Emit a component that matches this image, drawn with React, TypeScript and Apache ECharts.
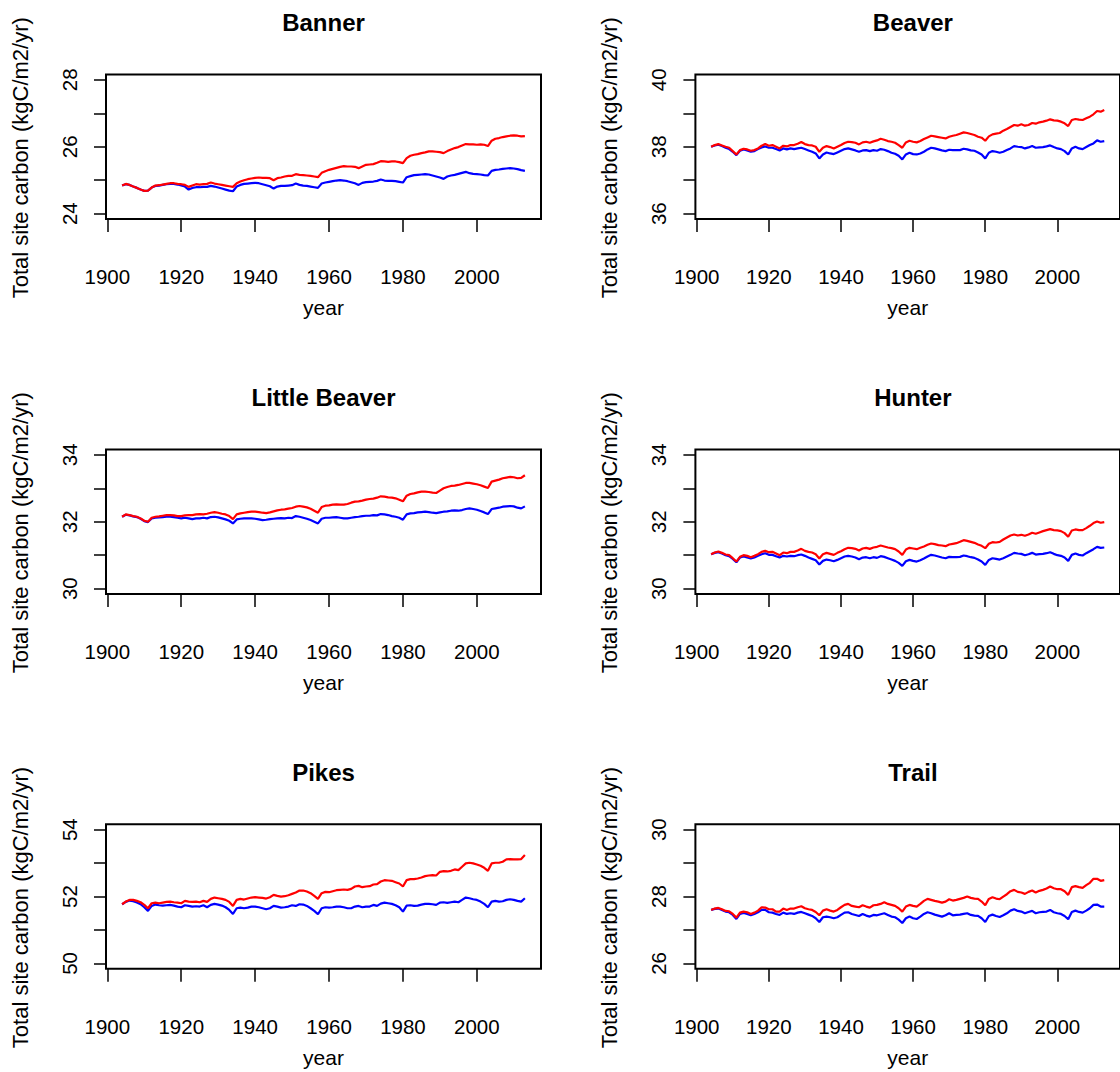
import React, { useEffect, useRef } from "react";
import * as echarts from "echarts";

// ---------------- DATA ----------------
const FIRST_YEAR = 1904;
const LAST_YEAR = 2013;
const years: number[] = [];
for (let y = FIRST_YEAR; y <= LAST_YEAR; y++) years.push(y);

const X_TICKS = [1900, 1920, 1940, 1960, 1980, 2000];
const Y_TITLE = "Total site carbon (kgC/m2/yr)";
const X_TITLE = "year";

const bannerRed = [
  24.84, 24.89, 24.86, 24.81, 24.77, 24.72,
  24.68, 24.69, 24.78, 24.84, 24.85, 24.87, 24.89, 24.91, 24.91, 24.89,
  24.88, 24.86, 24.80, 24.84, 24.88, 24.87, 24.88, 24.89, 24.93, 24.90,
  24.88, 24.86, 24.84, 24.82, 24.80, 24.91, 24.96, 25.00, 25.03, 25.05,
  25.07, 25.08, 25.07, 25.07, 25.06, 25.00, 25.06, 25.08, 25.11, 25.13,
  25.13, 25.18, 25.16, 25.15, 25.14, 25.13, 25.11, 25.09, 25.22, 25.27,
  25.31, 25.34, 25.37, 25.40, 25.42, 25.41, 25.41, 25.40, 25.36, 25.41,
  25.46, 25.47, 25.48, 25.52, 25.57, 25.56, 25.55, 25.56, 25.56, 25.54,
  25.51, 25.66, 25.73, 25.76, 25.78, 25.81, 25.83, 25.86, 25.86, 25.85,
  25.84, 25.81, 25.87, 25.92, 25.96, 25.99, 26.04, 26.08, 26.07, 26.07,
  26.06, 26.07, 26.06, 26.02, 26.18, 26.24, 26.26, 26.29, 26.31, 26.33,
  26.34, 26.33, 26.31, 26.32,
];
const bannerBlue = [
  24.84, 24.88, 24.86, 24.81, 24.77, 24.72,
  24.68, 24.69, 24.78, 24.83, 24.84, 24.86, 24.88, 24.89, 24.89, 24.87,
  24.84, 24.81, 24.72, 24.77, 24.79, 24.79, 24.80, 24.80, 24.83, 24.81,
  24.78, 24.75, 24.72, 24.69, 24.67, 24.81, 24.86, 24.89, 24.90, 24.91,
  24.92, 24.91, 24.88, 24.85, 24.82, 24.75, 24.81, 24.83, 24.83, 24.84,
  24.85, 24.90, 24.86, 24.84, 24.83, 24.81, 24.79, 24.77, 24.90, 24.93,
  24.95, 24.97, 24.99, 25.00, 24.99, 24.97, 24.94, 24.91, 24.86, 24.92,
  24.94, 24.95, 24.96, 24.98, 25.02, 24.99, 24.98, 24.98, 24.97, 24.95,
  24.93, 25.09, 25.12, 25.15, 25.16, 25.17, 25.18, 25.17, 25.14, 25.11,
  25.08, 25.04, 25.11, 25.14, 25.16, 25.19, 25.22, 25.25, 25.21, 25.19,
  25.18, 25.17, 25.15, 25.14, 25.28, 25.31, 25.32, 25.34, 25.35, 25.36,
  25.35, 25.33, 25.30, 25.28,
];

const beaverRed = [
  38.00, 38.05, 38.08, 38.04, 38.00, 37.97,
  37.87, 37.77, 37.90, 37.94, 37.92, 37.88, 37.90, 37.95, 38.03, 38.08,
  38.03, 38.05, 38.00, 37.95, 38.03, 38.01, 38.05, 38.05, 38.09, 38.14,
  38.08, 38.05, 38.04, 38.00, 37.85, 37.97, 38.02, 37.99, 37.95, 38.00,
  38.05, 38.11, 38.15, 38.14, 38.12, 38.07, 38.13, 38.15, 38.12, 38.16,
  38.19, 38.24, 38.21, 38.17, 38.15, 38.12, 38.05, 37.97, 38.13, 38.18,
  38.15, 38.13, 38.17, 38.23, 38.28, 38.33, 38.31, 38.29, 38.27, 38.25,
  38.30, 38.33, 38.35, 38.39, 38.43, 38.41, 38.38, 38.35, 38.30, 38.27,
  38.18, 38.31, 38.37, 38.39, 38.41, 38.48, 38.53, 38.59, 38.65, 38.63,
  38.67, 38.63, 38.65, 38.71, 38.69, 38.73, 38.75, 38.78, 38.82, 38.79,
  38.78, 38.75, 38.70, 38.62, 38.80, 38.83, 38.81, 38.80, 38.85, 38.90,
  38.97, 39.07, 39.05, 39.10,
];
const beaverBlue = [
  38.00, 38.04, 38.06, 38.02, 37.97, 37.93,
  37.85, 37.75, 37.88, 37.92, 37.89, 37.85, 37.87, 37.93, 37.98, 38.01,
  37.97, 37.97, 37.93, 37.89, 37.95, 37.92, 37.95, 37.93, 37.95, 37.97,
  37.93, 37.89, 37.85, 37.80, 37.65, 37.77, 37.83, 37.80, 37.78, 37.83,
  37.88, 37.93, 37.95, 37.92, 37.89, 37.85, 37.89, 37.90, 37.87, 37.90,
  37.88, 37.93, 37.91, 37.87, 37.82, 37.79, 37.73, 37.62, 37.77, 37.82,
  37.78, 37.77, 37.80, 37.85, 37.92, 37.97, 37.95, 37.92, 37.89, 37.87,
  37.91, 37.90, 37.90, 37.90, 37.94, 37.92, 37.89, 37.88, 37.83, 37.77,
  37.65, 37.82, 37.87, 37.85, 37.82, 37.85, 37.90, 37.95, 38.02, 38.00,
  37.99, 37.95, 37.98, 38.02, 37.97, 37.98, 37.99, 38.01, 38.04, 37.99,
  37.95, 37.93, 37.87, 37.77, 37.95, 38.00, 37.95, 37.93, 37.99, 38.05,
  38.10, 38.19, 38.15, 38.17,
];

const littleBeaverRed = [
  32.15, 32.22, 32.20, 32.17, 32.15, 32.10,
  32.03, 32.00, 32.12, 32.15, 32.16, 32.18, 32.20, 32.20, 32.19, 32.17,
  32.17, 32.19, 32.20, 32.20, 32.22, 32.23, 32.22, 32.24, 32.27, 32.29,
  32.27, 32.24, 32.22, 32.17, 32.08, 32.22, 32.25, 32.27, 32.29, 32.30,
  32.30, 32.29, 32.27, 32.26, 32.28, 32.31, 32.34, 32.36, 32.37, 32.39,
  32.41, 32.45, 32.47, 32.45, 32.43, 32.39, 32.33, 32.27, 32.44, 32.48,
  32.49, 32.51, 32.52, 32.51, 32.51, 32.53, 32.57, 32.60, 32.61, 32.63,
  32.66, 32.68, 32.69, 32.72, 32.76, 32.75, 32.73, 32.72, 32.70, 32.66,
  32.61, 32.78, 32.83, 32.85, 32.88, 32.90, 32.90, 32.89, 32.87, 32.86,
  32.93, 33.00, 33.04, 33.07, 33.08, 33.10, 33.13, 33.16, 33.16, 33.14,
  33.12, 33.09, 33.05, 33.01, 33.20, 33.23, 33.26, 33.30, 33.32, 33.34,
  33.33, 33.30, 33.31, 33.39,
];
const littleBeaverBlue = [
  32.15, 32.21, 32.19, 32.16, 32.14, 32.09,
  32.02, 31.99, 32.10, 32.12, 32.13, 32.14, 32.15, 32.15, 32.14, 32.12,
  32.10, 32.12, 32.10, 32.08, 32.10, 32.10, 32.12, 32.10, 32.14, 32.15,
  32.13, 32.10, 32.07, 32.03, 31.95, 32.07, 32.09, 32.10, 32.10, 32.10,
  32.09, 32.07, 32.05, 32.06, 32.08, 32.09, 32.10, 32.11, 32.10, 32.12,
  32.11, 32.17, 32.15, 32.12, 32.09, 32.05, 32.00, 31.95, 32.09, 32.12,
  32.12, 32.13, 32.14, 32.12, 32.10, 32.10, 32.12, 32.14, 32.15, 32.17,
  32.18, 32.18, 32.20, 32.19, 32.23, 32.22, 32.20, 32.17, 32.15, 32.12,
  32.06, 32.22, 32.25, 32.26, 32.28, 32.29, 32.30, 32.29, 32.27, 32.26,
  32.28, 32.30, 32.31, 32.33, 32.34, 32.33, 32.35, 32.38, 32.40, 32.38,
  32.36, 32.32, 32.28, 32.23, 32.38, 32.40, 32.42, 32.45, 32.46, 32.47,
  32.46, 32.42, 32.40, 32.46,
];

const hunterRed = [
  31.03, 31.08, 31.11, 31.07, 31.02, 31.00,
  30.91, 30.81, 30.95, 31.00, 30.98, 30.94, 30.98, 31.03, 31.10, 31.13,
  31.09, 31.10, 31.05, 31.00, 31.08, 31.06, 31.10, 31.10, 31.14, 31.19,
  31.13, 31.10, 31.08, 31.03, 30.90, 31.03, 31.07, 31.04, 31.01, 31.07,
  31.12, 31.18, 31.22, 31.21, 31.19, 31.14, 31.20, 31.22, 31.19, 31.23,
  31.25, 31.29, 31.26, 31.23, 31.21, 31.18, 31.11, 31.01, 31.17, 31.22,
  31.20, 31.18, 31.22, 31.26, 31.31, 31.35, 31.33, 31.30, 31.29, 31.27,
  31.32, 31.34, 31.36, 31.40, 31.45, 31.43, 31.40, 31.37, 31.32, 31.28,
  31.21, 31.34, 31.39, 31.38, 31.40, 31.47, 31.53, 31.59, 31.62, 31.59,
  31.61, 31.58, 31.62, 31.67, 31.64, 31.68, 31.72, 31.75, 31.78, 31.75,
  31.74, 31.72, 31.66, 31.55, 31.74, 31.77, 31.75, 31.75, 31.81, 31.88,
  31.96, 32.01, 31.97, 31.99,
];
const hunterBlue = [
  31.03, 31.07, 31.09, 31.05, 31.00, 30.97,
  30.89, 30.79, 30.93, 30.96, 30.93, 30.90, 30.93, 30.98, 31.03, 31.06,
  31.01, 31.01, 30.97, 30.93, 30.98, 30.96, 30.98, 30.97, 31.00, 31.02,
  30.98, 30.93, 30.89, 30.85, 30.72, 30.83, 30.87, 30.85, 30.82, 30.86,
  30.91, 30.96, 30.98, 30.96, 30.93, 30.88, 30.93, 30.94, 30.91, 30.94,
  30.92, 30.97, 30.95, 30.91, 30.87, 30.83, 30.77, 30.68, 30.82, 30.86,
  30.83, 30.81, 30.85, 30.90, 30.96, 31.01, 30.99, 30.96, 30.93, 30.91,
  30.95, 30.94, 30.94, 30.95, 30.99, 30.97, 30.94, 30.92, 30.87, 30.81,
  30.71, 30.86, 30.91, 30.89, 30.87, 30.91, 30.96, 31.01, 31.07, 31.05,
  31.04, 31.00, 31.03, 31.07, 31.02, 31.03, 31.04, 31.06, 31.09, 31.04,
  31.00, 30.98, 30.93, 30.83, 31.01, 31.05, 31.01, 30.99, 31.06, 31.12,
  31.18, 31.25, 31.22, 31.23,
];

const pikesRed = [
  51.77, 51.85, 51.90, 51.90, 51.87, 51.83,
  51.75, 51.65, 51.80, 51.82, 51.80, 51.82, 51.84, 51.85, 51.83, 51.82,
  51.80, 51.87, 51.85, 51.84, 51.85, 51.83, 51.87, 51.84, 51.93, 51.97,
  51.95, 51.93, 51.90, 51.84, 51.72, 51.90, 51.93, 51.91, 51.94, 51.97,
  51.98, 51.97, 51.96, 51.94, 51.98, 52.05, 52.02, 52.00, 52.01, 52.04,
  52.08, 52.12, 52.18, 52.18, 52.15, 52.10, 52.02, 51.93, 52.10, 52.14,
  52.13, 52.16, 52.19, 52.20, 52.21, 52.20, 52.23, 52.30, 52.32, 52.28,
  52.30, 52.31, 52.36, 52.37, 52.45, 52.49, 52.48, 52.47, 52.43, 52.39,
  52.30, 52.49, 52.52, 52.52, 52.54, 52.57, 52.61, 52.63, 52.64, 52.63,
  52.74, 52.76, 52.75, 52.77, 52.81, 52.79, 52.89, 52.99, 53.01, 52.99,
  52.96, 52.92, 52.86, 52.77, 52.99, 53.01, 53.01, 53.04, 53.11, 53.12,
  53.11, 53.11, 53.12, 53.24,
];
const pikesBlue = [
  51.77, 51.84, 51.88, 51.86, 51.82, 51.77,
  51.68, 51.57, 51.72, 51.76, 51.74, 51.73, 51.74, 51.75, 51.73, 51.70,
  51.68, 51.74, 51.72, 51.70, 51.71, 51.70, 51.74, 51.68, 51.75, 51.78,
  51.76, 51.73, 51.68, 51.60, 51.48, 51.65, 51.67, 51.65, 51.67, 51.70,
  51.70, 51.68, 51.65, 51.62, 51.65, 51.72, 51.70, 51.67, 51.68, 51.70,
  51.74, 51.72, 51.77, 51.76, 51.72, 51.65, 51.57, 51.47, 51.65, 51.68,
  51.67, 51.68, 51.70, 51.70, 51.68, 51.65, 51.65, 51.70, 51.72, 51.68,
  51.70, 51.70, 51.75, 51.72, 51.79, 51.82, 51.80, 51.78, 51.74, 51.68,
  51.55, 51.73, 51.74, 51.72, 51.73, 51.76, 51.78, 51.78, 51.77, 51.75,
  51.82, 51.83, 51.81, 51.83, 51.85, 51.83, 51.90, 51.97, 51.95, 51.92,
  51.90, 51.85, 51.78, 51.68, 51.85, 51.87, 51.85, 51.86, 51.90, 51.92,
  51.90, 51.87, 51.85, 51.95,
];

const trailRed = [
  27.60, 27.64, 27.66, 27.62, 27.57, 27.56,
  27.48, 27.37, 27.52, 27.55, 27.53, 27.48, 27.52, 27.58, 27.68, 27.67,
  27.62, 27.62, 27.55, 27.55, 27.64, 27.60, 27.64, 27.64, 27.68, 27.71,
  27.65, 27.62, 27.60, 27.54, 27.44, 27.58, 27.62, 27.58, 27.55, 27.60,
  27.68, 27.75, 27.78, 27.72, 27.70, 27.68, 27.74, 27.70, 27.67, 27.74,
  27.75, 27.78, 27.83, 27.78, 27.75, 27.72, 27.65, 27.55, 27.70, 27.75,
  27.72, 27.70, 27.78, 27.87, 27.93, 27.90, 27.87, 27.85, 27.82, 27.85,
  27.92, 27.88, 27.90, 27.93, 27.96, 28.00, 27.96, 27.94, 27.93, 27.85,
  27.74, 27.93, 27.98, 27.94, 27.92, 28.00, 28.07, 28.16, 28.20, 28.14,
  28.12, 28.08, 28.14, 28.18, 28.12, 28.17, 28.20, 28.24, 28.30, 28.25,
  28.22, 28.22, 28.16, 28.05, 28.28, 28.31, 28.28, 28.26, 28.34, 28.41,
  28.53, 28.53, 28.47, 28.49,
];
const trailBlue = [
  27.60, 27.63, 27.64, 27.60, 27.55, 27.53,
  27.45, 27.33, 27.48, 27.51, 27.48, 27.44, 27.48, 27.53, 27.60, 27.60,
  27.53, 27.52, 27.48, 27.45, 27.52, 27.48, 27.50, 27.48, 27.52, 27.54,
  27.50, 27.46, 27.42, 27.35, 27.24, 27.38, 27.40, 27.38, 27.35, 27.38,
  27.45, 27.52, 27.53, 27.48, 27.45, 27.42, 27.48, 27.43, 27.40, 27.45,
  27.44, 27.47, 27.50, 27.45, 27.40, 27.38, 27.31, 27.21, 27.35, 27.40,
  27.35, 27.33, 27.40, 27.48, 27.53, 27.50, 27.46, 27.43, 27.40, 27.44,
  27.50, 27.44, 27.45, 27.46, 27.48, 27.50, 27.45, 27.43, 27.42, 27.35,
  27.24, 27.42, 27.46, 27.42, 27.39, 27.44, 27.50, 27.58, 27.62, 27.57,
  27.55, 27.50, 27.54, 27.57, 27.50, 27.53, 27.54, 27.55, 27.60, 27.53,
  27.50, 27.48, 27.42, 27.32, 27.54, 27.58, 27.54, 27.52, 27.58, 27.65,
  27.75, 27.76, 27.70, 27.70,
];

const bannerTicks = [24, 25, 26, 27, 28];
const bannerLabels = [24, 26, 28];
const beaverTicks = [36, 37, 38, 39, 40];
const beaverLabels = [36, 38, 40];
const littleBeaverTicks = [30, 31, 32, 33, 34];
const littleBeaverLabels = [30, 32, 34];
const hunterTicks = [30, 31, 32, 33, 34];
const hunterLabels = [30, 32, 34];
const pikesTicks = [50, 51, 52, 53, 54];
const pikesLabels = [50, 52, 54];
const trailTicks = [26, 27, 28, 29, 30];
const trailLabels = [26, 28, 30];

const panels = [
  { name: "Banner", red: bannerRed, blue: bannerBlue, ticks: bannerTicks, labels: bannerLabels },
  { name: "Beaver", red: beaverRed, blue: beaverBlue, ticks: beaverTicks, labels: beaverLabels },
  { name: "Little Beaver", red: littleBeaverRed, blue: littleBeaverBlue, ticks: littleBeaverTicks, labels: littleBeaverLabels },
  { name: "Hunter", red: hunterRed, blue: hunterBlue, ticks: hunterTicks, labels: hunterLabels },
  { name: "Pikes", red: pikesRed, blue: pikesBlue, ticks: pikesTicks, labels: pikesLabels },
  { name: "Trail", red: trailRed, blue: trailBlue, ticks: trailTicks, labels: trailLabels },
];

// ---------------- LAYOUT ----------------
const FONT = "'Liberation Sans', Arial, Helvetica, sans-serif";
const COL_LEFT = [106, 695.4];
const ROW_TOP = [74.5, 449.5, 824.3];
const GRID_W = 435;
const GRID_H = 144.5;

function buildOption() {
  const grid: any[] = [];
  const xAxis: any[] = [];
  const yAxis: any[] = [];
  const series: any[] = [];
  const title: any[] = [];
  const graphic: any[] = [];

  panels.forEach((p, i) => {
    const col = i % 2;
    const row = Math.floor(i / 2);
    const left = COL_LEFT[col];
    const top = ROW_TOP[row];
    const lo = p.ticks[0];
    const hi = p.ticks[p.ticks.length - 1];
    const pad = (hi - lo) * 0.04;
    const xPad = (LAST_YEAR - FIRST_YEAR) * 0.04;

    grid.push({
      left,
      top,
      width: GRID_W,
      height: GRID_H,
      show: true,
      borderColor: "#000",
      borderWidth: 2,
      backgroundColor: "transparent",
    });

    title.push({
      text: p.name,
      left: left + GRID_W / 2,
      top: top - 64,
      textAlign: "center",
      padding: 0,
      textStyle: { fontSize: 24, fontWeight: "bold", color: "#000", fontFamily: FONT },
    });

    // rotated y-axis title
    graphic.push({
      type: "text",
      x: left - 86,
      y: top + GRID_H / 2 + 11,
      rotation: Math.PI / 2,
      silent: true,
      style: {
        text: Y_TITLE,
        fontSize: 22,
        fontFamily: FONT,
        fill: "#000",
        align: "center",
        verticalAlign: "middle",
      },
    });

    xAxis.push({
      gridIndex: i,
      type: "value",
      min: FIRST_YEAR - xPad,
      max: LAST_YEAR + xPad,
      axisLine: { show: false },
      axisTick: {
        show: true,
        length: 13,
        customValues: X_TICKS,
        lineStyle: { color: "#000", width: 1.5 },
      },
      axisLabel: {
        show: true,
        customValues: X_TICKS,
        formatter: (v: number) => String(v),
        fontSize: 20.5,
        color: "#000",
        fontFamily: FONT,
        margin: 47,
      },
      splitLine: { show: false },
      name: X_TITLE,
      nameLocation: "middle",
      nameGap: 78,
      nameTextStyle: { fontSize: 21, color: "#000", fontFamily: FONT },
    });

    yAxis.push({
      gridIndex: i,
      type: "value",
      min: lo - pad,
      max: hi + pad,
      axisLine: { show: false },
      axisTick: {
        show: true,
        length: 12,
        customValues: p.ticks,
        lineStyle: { color: "#000", width: 1.5 },
      },
      axisLabel: {
        show: true,
        customValues: p.labels,
        formatter: (v: number) => String(v),
        rotate: 90,
        fontSize: 20.5,
        color: "#000",
        fontFamily: FONT,
        margin: 26,
      },
      splitLine: { show: false },
    });

    series.push({
      type: "line",
      name: p.name + " blue",
      xAxisIndex: i,
      yAxisIndex: i,
      data: years.map((y, k) => [y, p.blue[k]]),
      symbol: "none",
      showSymbol: false,
      silent: true,
      lineStyle: { color: "#0000ff", width: 2.2 },
      itemStyle: { color: "#0000ff" },
      z: 2,
    });
    series.push({
      type: "line",
      name: p.name + " red",
      xAxisIndex: i,
      yAxisIndex: i,
      data: years.map((y, k) => [y, p.red[k]]),
      symbol: "none",
      showSymbol: false,
      silent: true,
      lineStyle: { color: "#ff0000", width: 2.2 },
      itemStyle: { color: "#ff0000" },
      z: 3,
    });
  });

  return {
    animation: false,
    backgroundColor: "#ffffff",
    textStyle: { fontFamily: FONT },
    title,
    grid,
    xAxis,
    yAxis,
    series,
    graphic,
  };
}

export default function App() {
  const ref = useRef<HTMLDivElement>(null);
  useEffect(() => {
    if (!ref.current) return;
    const chart = echarts.init(ref.current, undefined, { renderer: "svg" });
    chart.setOption(buildOption() as any);
    return () => chart.dispose();
  }, []);
  return (
    <div
      ref={ref}
      style={{ position: "absolute", left: 0, top: 0, width: 1120, height: 1072, overflow: "hidden" }}
    />
  );
}
